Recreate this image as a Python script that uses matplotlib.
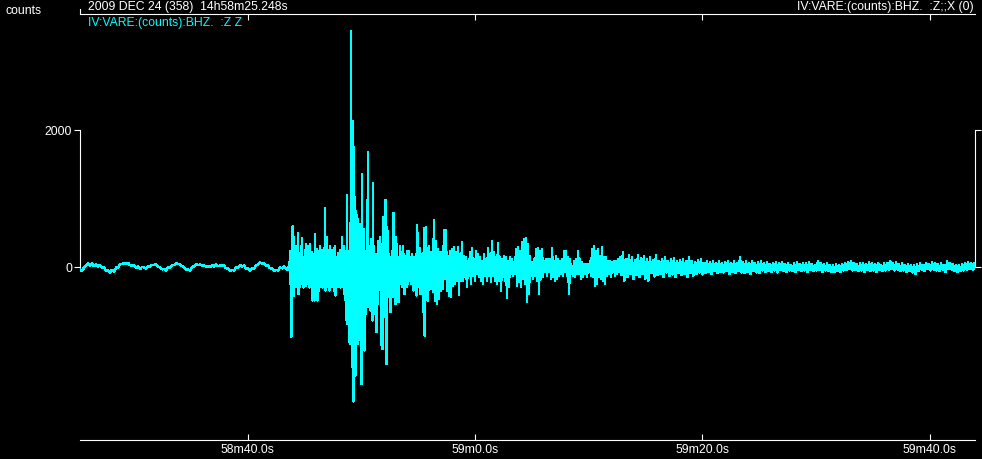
import numpy as np
import matplotlib
matplotlib.use("Agg")
import matplotlib.pyplot as plt

# trace segments (counts)
# pre-event noise, one sample every 0.176 s from the start
pre_dt = 0.176
pre_t0 = 0.0
pre_counts = [-30, -60, -10, 25, 55, 20, 50, 10, 40, 0, 30, -20, -10, -55, -50, -80, -40, -65, -10, -5,
              40, 45, 55, 40, 60, 25, 20, 30, -15, 10, -30, 0, -5, -25, 10, 0, 30, 25, 40, 0,
              -5, -35, -30, -50, -10, -10, 30, 25, 55, 40, 40, 10, 0, -40, -35, -50, 0, 10, 45, 30,
              35, 20, 20, 5, 10, 0, 30, 0, 40, 10, 25, 20, 20, -20, -20, -55, -45, -50, -5, -5,
              30, 5, 20, -30, -20, -55, -20, -20, 25, 30, 70, 45, 50, 20, 20, -20, -20, -60, -45, -50,
              -10, -20, 10, -30, -40]

# P onset and main phase, 0.044 s per sample
main_dt = 0.044
main_t0 = 18.38
main_counts = [20, -40, 230, -250, 100, -1017, 579, -300, 590, -420, 440, -200, 141, -297, 300, -250,
               120, -180, 496, -394, 200, -300, 141, -199, 300, -250, 423, -151, 150, -300, 141, -199,
               250, -280, 336, -199, 180, -250, 311, -199, 200, -300, 336, -151, 150, -250, 214, -491,
               180, -350, 190, -491, 482, -345, 250, -300, 263, -491, 200, -350, 238, -297, 300, -200,
               141, -199, 250, -300, 238, -248, 280, -250, 861, -345, 300, -250, 433, -248, 250, -300,
               214, -345, 300, -300, 117, -297, 250, -250, 190, -248, 280, -350, 311, -418, 150, -300,
               141, -297, 200, -200, 44, -248, 250, -300, 238, -297, 433, -224, 117, -248, 300, -400,
               141, -491, 238, -783, 1056, -832, 238, -589, 190, -1100, 482, -1124, 3450, -700, 433, -1465,
               2136, -1966, 1747, -1489, 1017, -1586, 822, -832, 750, -1124, 700, -900, 628, -783, 433, -1075,
               628, -1708, 1358, -929, 92, -297, 555, -1221, 238, -686, 92, -394, 978, -443, 1684, -589,
               20, -516, 141, -638, 409, -297, 141, -783, 1222, -297, 92, -491, 141, -686, 190, -954,
               141, -540, 384, -345, 141, -248, 433, -345, 141, -1148, 336, -1200, 735, -589, 214, -638,
               978, -735, 978, -1416, 579, -443, 530, -199, 190, -248, 141, -662, 141, -345, 238, -443,
               784, -248, 790, -394, 433, -540, 433, -491, 336, -248, 141, -516, 141, -248, 311, -151,
               214, -248, 141, -297, 311, -151, 190, -394, 141, -151, 165, -297, 238, -248, 141, -199,
               238, -199, 141, -151, 117, -248, 190, -248, 141, -345, 117, -297, 141, -151, 190, -418,
               613, -248, 496, -297, 141, -151, 277, -394, 141, -248, 190, -297, 209, -662, 569, -1002,
               190, -490, 589, -345, 277, -491, 141, -248, 300, -330]

# coda, 0.088 s per sample
coda_dt = 0.088
coda_t0 = 30.78
coda_counts = [214, -321, 214, -370, 686, -491, 384, -540, 263, -467, 214, -345, 214, -321, 540, -175,
               540, -345, 165, -418, 238, -443, 263, -272, 287, -248, 214, -199, 287, -404, 190, -199,
               360, -199, 165, -151, 141, -297, 92, -127, 214, -248, 273, -127, 117, -199, 229, -102,
               190, -151, 141, -199, 92, -248, 190, -127, 117, -199, 273, -127, 190, -224, 384, -127,
               214, -199, 141, -248, 350, -199, 141, -345, 117, -151, 165, -199, 141, -453, 92, -297,
               141, -102, 117, -127, 78, -102, 263, -272, 287, -224, 238, -297, 360, -175, 409, -248,
               419, -516, 336, -394, 165, -127, 68, -175, 117, -127, 263, -199, 273, -394, 238, -175,
               263, -151, 92, -78, 117, -127, 117, -78, 117, -175, 273, -151, 92, -199, 165, -175,
               117, -127, 92, -102, 117, -127, 238, -78, 229, -127, 141, -394, 117, -102, 19, -127,
               92, -151, 117, -102, 229, -102, 117, -175, 68, -151, 44, -102, 44, -151, 44, -78,
               92, -127, 263, -151, 311, -272, 238, -248, 263, -151, 165, -175, 287, -199, 141, -248,
               141, -127, 92, -102, 92, -151, 68, -78, 92, -127, 92, -102, 117, -78]

# late coda / noise, 0.132 s per sample
tail_dt = 0.132
tail_t0 = 47.49
tail_counts = [150, -120, 214, -199, 120, -150, 170, -100, 140, -180, 100, -120, 180, -150, 130, -100, 160, -170, 110, -199,
               141, -90, 100, -140, 170, -120, 90, -100, 120, -150, 141, -80, 80, -130, 110, -110, 130, -150, 90, -90,
               100, -120, 117, -100, 80, -151, 141, -90, 92, -127, 68, -100, 100, -80, 117, -110, 60, -90, 92, -70,
               70, -100, 80, -60, 60, -90, 92, -78, 50, -80, 70, -60, 90, -100, 60, -70, 80, -90, 50, -60,
               141, -80, 70, -90, 80, -70, 60, -100, 92, -60, 50, -80, 70, -90, 80, -50, 60, -70, 70, -60,
               44, -70, 60, -50, 68, -80, 50, -40, 70, -60, 40, -70, 60, -50, 30, -60, 50, -70, 68, -40,
               40, -60, 60, -50, 50, -70, 70, -40, 44, -60, 30, -50, 92, -40, 60, -70, 40, -50, 50, -60,
               30, -70, 20, -78, 40, -60, 30, -70, 44, -50, 60, -40, 70, -30, 92, -50, 60, -40, 44, -60,
               50, -50, 60, -70, 40, -40, 68, -60, 50, -50, 40, -70, 60, -40, 30, -60, 50, -50, 60, -40,
               92, -30, 50, -50, 70, -40, 40, -60, 50, -50, 30, -70, 40, -60, 20, -80, 30, -100, 40, -60,
               50, -40, 30, -60, 60, -30, 40, -50, 70, -40, 60, -50, 40, -60, 50, -40, 30, -70, 80, -30,
               60, -40, 40, -60, 30, -70, 20, -60, 40, -50, 60, -40, 70, -30, 60, -40, 50, -30]

# axis labels
tick_secs = [14.752, 34.752, 54.752, 74.752]
tick_labels = ["58m40.0s", "59m0.0s", "59m20.0s", "59m40.0s"]
y_ticks = [0, 2000]
y_labels = ["0", "2000"]

segs = [(pre_t0, pre_dt, pre_counts), (main_t0, main_dt, main_counts),
        (coda_t0, coda_dt, coda_counts), (tail_t0, tail_dt, tail_counts)]
t = np.concatenate([t0 + dt * np.arange(len(c)) for t0, dt, c in segs])
y = np.concatenate([np.array(c, float) for _, _, c in segs])

plt.rcParams['font.family'] = ['Liberation Sans', 'DejaVu Sans']
fs = 8.8

fig = plt.figure(figsize=(9.82, 4.60), dpi=100, facecolor='black')
ax = fig.add_axes([80 / 982, 19 / 460, 895 / 982, 426 / 460])
ax.set_facecolor('black')
ax.plot(t, y, color='#00ffff', lw=1.0, antialiased=False)

ax.set_xlim(0, 78.72)
ax.set_ylim(-2526, 3693)

for s in ['top', 'bottom', 'left', 'right']:
    ax.spines[s].set_color('white')
    ax.spines[s].set_linewidth(0.8)
ax.spines['left'].set_bounds(0, 2000)
ax.spines['right'].set_bounds(0, 2000)

ax.set_xticks(tick_secs)
ax.set_xticklabels(tick_labels)
ax.tick_params(axis='x', which='both', direction='in', length=4.3, width=0.8, color='white',
               labelcolor='white', labelsize=fs, top=True, bottom=True, labeltop=False, pad=2.5)
ax.set_yticks(y_ticks)
ax.set_yticklabels(y_labels)
ax.tick_params(axis='y', direction='out', length=4.3, width=0.8, color='white',
               labelcolor='white', labelsize=fs, left=True, right=True, labelright=False, pad=1.5)

# little mark at the top-left corner
ax.plot([0, 0], [1.0, 1.012], transform=ax.transAxes, color='white', lw=0.8, clip_on=False)

fig.text(5 / 982, 1 - 11 / 460, "counts", color='white', fontsize=fs, va='center', ha='left')
fig.text(88 / 982, 1 - 7 / 460, "2009 DEC 24 (358)  14h58m25.248s", color='white', fontsize=fs,
         va='center', ha='left')
fig.text(88 / 982, 1 - 23 / 460, "IV:VARE:(counts):BHZ.  :Z Z", color='#00ffff', fontsize=fs,
         va='center', ha='left')
fig.text(974 / 982, 1 - 7 / 460, "IV:VARE:(counts):BHZ.  :Z;;X (0)", color='white', fontsize=fs,
         va='center', ha='right')

fig.savefig("out.png", dpi=100, facecolor='black')
